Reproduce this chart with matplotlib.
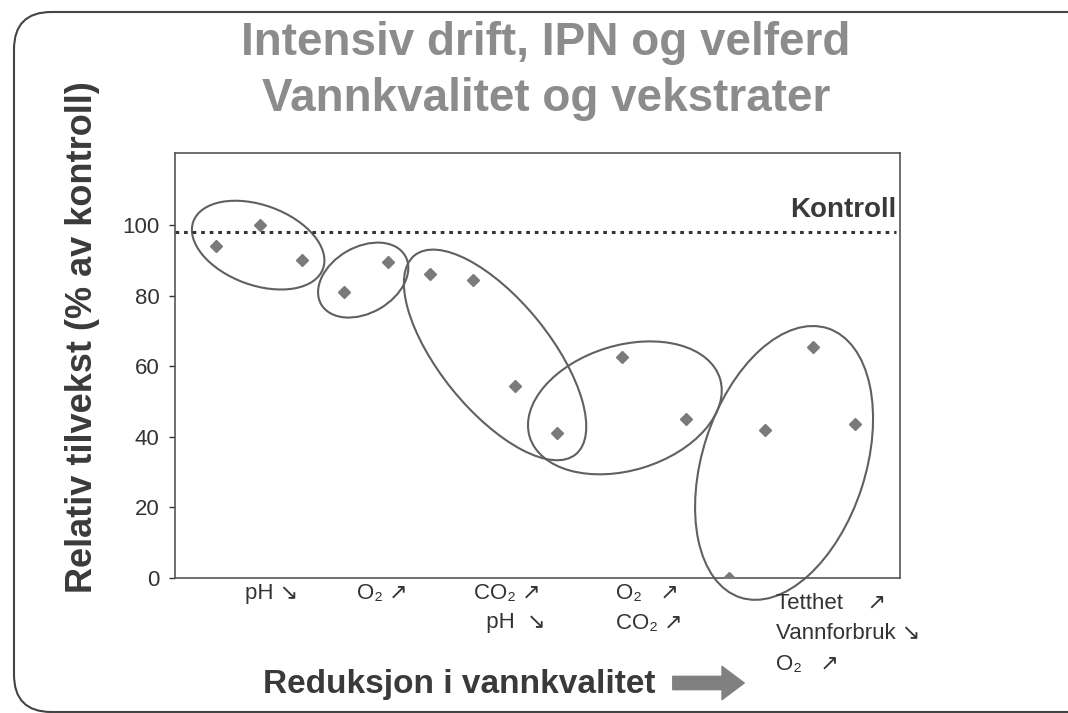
import matplotlib
matplotlib.use("Agg")
import matplotlib.pyplot as plt
import matplotlib.transforms as mtransforms
from matplotlib.patches import Ellipse, FancyBboxPatch

plt.rcParams['font.family'] = ['Liberation Sans', 'DejaVu Sans']

# measured growth relative to control (%)
x_pos = [0.98, 2.02, 3.02, 4.02, 5.07, 6.07, 7.1, 8.1, 9.1, 10.64, 12.17, 13.2, 14.05, 15.2, 16.2]
growth = [94, 100, 90, 81, 89.5, 86, 84.5, 54.5, 41, 62.5, 45, 0, 42, 65.5, 43.5]
control = 98

# ellipse shape per group: width, height (inches) and rotation (deg)
ellipse_shape = [(1.38, 0.80, -20), (0.97, 0.66, 30), (2.56, 1.10, -51),
                 (1.99, 1.25, 17), (2.83, 1.63, 72)]
ellipse_center = [(1.98, 94.3), (4.48, 84.4), (7.62, 63.2), (10.71, 48.2), (14.5, 32.6)]

cat_labels = ["pH ↘", "O₂ ↗", "CO₂ ↗\n  pH  ↘", "O₂   ↗\nCO₂ ↗",
              "Tetthet    ↗\nVannforbruk ↘\nO₂   ↗"]
cat_x = [1.67, 4.33, 7.12, 10.5, 14.3]
cat_y = [-0.012, -0.012, -0.012, -0.012, -0.035]
cat_spacing = [1.5, 1.5, 1.5, 1.55, 1.6]

yticks = [0, 20, 40, 60, 80, 100]

fig = plt.figure(figsize=(10.68, 7.13), dpi=100)
ax = fig.add_axes([175 / 1068, 1 - 578 / 713, 725 / 1068, 425 / 713])

dark = '#3a3a3a'
ax.plot(x_pos, growth, 'D', color='#7a7a7a', markersize=6.5, zorder=3)
ax.axhline(control, color='#333333', linestyle=(0, (1.2, 1.6)), linewidth=2.2, xmax=0.995)
ax.text(0.995, control + 2.5, "Kontroll", transform=ax.get_yaxis_transform(),
        ha='right', va='bottom', fontsize=20, fontweight='bold', color=dark)

for (w, h, ang), (cx, cy) in zip(ellipse_shape, ellipse_center):
    tr = fig.dpi_scale_trans + mtransforms.ScaledTranslation(cx, cy, ax.transData)
    ax.add_patch(Ellipse((0, 0), w, h, angle=ang, transform=tr, fill=False,
                         edgecolor='#606060', linewidth=1.5, clip_on=False))

ax.set_xlim(0, 17.26)
ax.set_ylim(0, 120.4)
ax.set_xticks([])
ax.set_yticks(yticks)
ax.tick_params(axis='y', labelsize=16, colors='#333333', length=4, width=1, pad=7)
for s in ax.spines.values():
    s.set_color('#555555')
    s.set_linewidth(1.2)

for lab, xx, yy, ls in zip(cat_labels, cat_x, cat_y, cat_spacing):
    ax.text(xx, yy, lab, transform=ax.get_xaxis_transform(), ha='left', va='top',
            fontsize=16, color='#333333', linespacing=ls)

ax.set_ylabel("Relativ tilvekst (% av kontroll)", fontsize=26, fontweight='bold',
              color=dark)
ax.yaxis.set_label_coords(-0.103, 0.567)

fig.text(546 / 1068, 1 - 43 / 713, "Intensiv drift, IPN og velferd", ha='center',
         va='center', fontsize=33, fontweight='bold', color='#8c8c8c')
fig.text(546 / 1068, 1 - 99 / 713, "Vannkvalitet og vekstrater", ha='center',
         va='center', fontsize=33, fontweight='bold', color='#8c8c8c')

fig.text(263 / 1068, 1 - 684 / 713, "Reduksjon i vannkvalitet", ha='left', va='center',
         fontsize=24, fontweight='bold', color=dark)
ax.annotate('', xy=(747, 30), xytext=(670, 30), xycoords='figure pixels',
            textcoords='figure pixels',
            arrowprops=dict(arrowstyle='simple,head_width=1.5,head_length=1.0,tail_width=0.6',
                            color='#808080', mutation_scale=16))

frame = FancyBboxPatch((14 / 1068, 1 - 712 / 713), 1.2, 700 / 713,
                       boxstyle='round,pad=0,rounding_size=0.035',
                       transform=fig.transFigure, fill=False, edgecolor='#444444',
                       linewidth=1.5, mutation_aspect=1068 / 713)
fig.patches.append(frame)

fig.savefig("out.png", dpi=100)
